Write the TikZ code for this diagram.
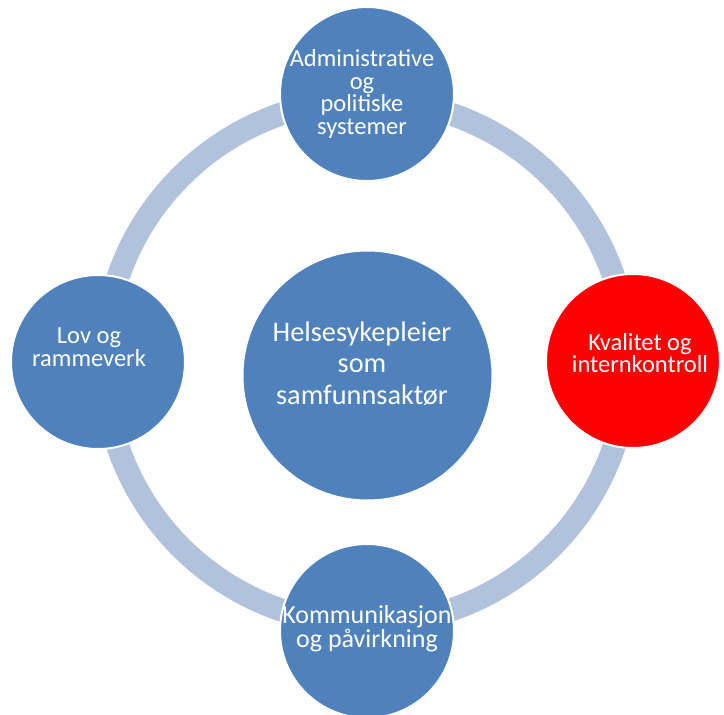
\documentclass[tikz,border=0pt]{standalone}
\usepackage{fontspec}
\setmainfont{Carlito}
\definecolor{ringblue}{RGB}{176,194,220}
\definecolor{discblue}{RGB}{79,129,189}
\definecolor{discred}{RGB}{255,0,0}
\newcommand\discfont[2]{\fontsize{#1}{#2}\selectfont\lineskiplimit=-\maxdimen}
\tikzset{
  disc/.style={circle, draw=white, line width=2pt, fill=discblue, inner sep=0pt, minimum size=174pt},
  disclabel/.style={text=white, align=center, inner sep=0pt},
}
\begin{document}
\begin{tikzpicture}[x=1pt, y=-1pt]
    \useasboundingbox (0, 0) rectangle (724, 715);
    \fill[white] (0, 0) rectangle (724, 715);
    \coordinate (middle) at (366, 362);
    \draw[ringblue, line width=23pt] (middle) circle[radius=262pt];

    \node[disc, minimum size=250pt] (hub) at (367.5, 375.5) {};
    \node[disc] (admin) at (367, 94) {};
    \node[disc, fill=discred] (kvalitet) at (633, 361) {};
    \node[disc] (kommunikasjon) at (367, 631) {};
    \node[disc] (lov) at (98, 362) {};

    \node[disclabel, font=\discfont{28.3}{31.6}] (hubtext) at (362, 363.5) {Helsesykepleier\\som\\samfunnsaktør};
    \node[disclabel, font=\discfont{24.5}{22.7}] (admintext) at (362, 94) {Administrative\\og\\politiske\\systemer};
    \node[disclabel, font=\discfont{24.5}{22.7}] (kvalitettext) at (640, 353) {Kvalitet og\\internkontroll};
    \node[disclabel, font=\discfont{26}{24}] (kommunikasjontext) at (367, 629) {Kommunikasjon\\og påvirkning};
    \node[disclabel, font=\discfont{24.5}{22.7}] (lovtext) at (89, 347.5) {Lov og\\rammeverk};
\end{tikzpicture}
\end{document}
